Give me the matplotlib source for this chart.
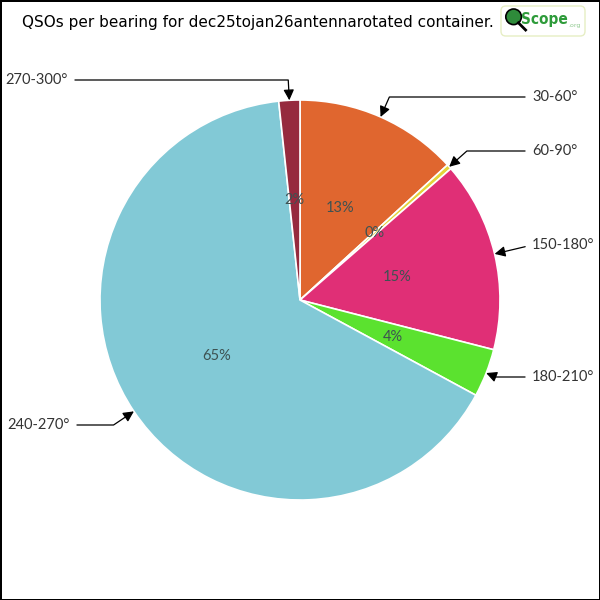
import matplotlib
matplotlib.use("Agg")
import matplotlib.pyplot as plt
import numpy as np
from matplotlib.patches import FancyBboxPatch, Circle

labels = ["30-60°", "60-90°", "150-180°", "180-210°", "240-270°", "270-300°"]
values = [13.2, 0.4, 15.4, 3.9, 65.4, 1.7]
colors = ["#E0662F", "#E3D43A", "#E02F76", "#5BE22F", "#82C9D6", "#962A3E"]
title = "QSOs per bearing for dec25tojan26antennarotated container."

# label text anchor positions (layout) : (x, y, ha)
label_pos = [(1.16, 1.015, "left"), (1.16, 0.745, "left"), (1.16, 0.275, "left"),
             (1.16, -0.385, "left"), (-1.15, -0.625, "right"), (-1.16, 1.10, "right")]

fig = plt.figure(figsize=(6, 6), dpi=100, linewidth=2, edgecolor="black", facecolor="white")
ax = fig.add_axes([0, 0, 1, 1])
ax.axis("off")

wedges, texts, autotexts = ax.pie(values, colors=colors, startangle=90, counterclock=False,
                                  radius=1.0, autopct="%.0f%%", pctdistance=0.5,
                                  wedgeprops=dict(edgecolor="white", linewidth=1.2),
                                  textprops=dict(color="#3d5252", fontsize=10.5, family="Lato"))
ax.set_xlim(-1.5, 1.5)
ax.set_ylim(-1.5, 1.5)
ax.set_aspect("equal")

for w, lab, (tx, ty, ha) in zip(wedges, labels, label_pos):
    ang = (w.theta1 + w.theta2) / 2.0
    xr, yr = np.cos(np.radians(ang)), np.sin(np.radians(ang))
    ax.annotate(lab, xy=(xr, yr), xytext=(tx, ty), ha=ha, va="center",
                fontsize=10.5, color="#333333", family="Lato",
                arrowprops=dict(arrowstyle="-|>,head_length=0.6,head_width=0.3",
                                color="black", lw=0.9, shrinkA=3, shrinkB=0,
                                connectionstyle=f"angle,angleA=0,angleB={ang},rad=0"))

fig.text(0.43, 0.963, title, ha="center", va="center", fontsize=11, color="black",
         family="DejaVu Sans")

# logo
logo = FancyBboxPatch((0.835, 0.94), 0.14, 0.05, boxstyle="round,pad=0.0,rounding_size=0.008",
                      transform=fig.transFigure, facecolor="white", edgecolor="#e6eec4", lw=1)
fig.patches.append(logo)
fig.patches.append(Circle((0.856, 0.972), 0.013, transform=fig.transFigure,
                          facecolor="#2e8b3a", edgecolor="black", lw=1.2))
fig.lines.append(plt.Line2D([0.864, 0.876], [0.962, 0.950], transform=fig.transFigure,
                            color="black", lw=2))
fig.text(0.868, 0.968, "Scope", fontsize=11, fontweight="bold", color="#2e9b3a",
         ha="left", va="center", family="DejaVu Sans", fontstretch="condensed")
fig.text(0.947, 0.958, ".org", fontsize=4.5, color="#8fc98f", ha="left", va="center")

fig.savefig("out.png", dpi=100, edgecolor=fig.get_edgecolor())
